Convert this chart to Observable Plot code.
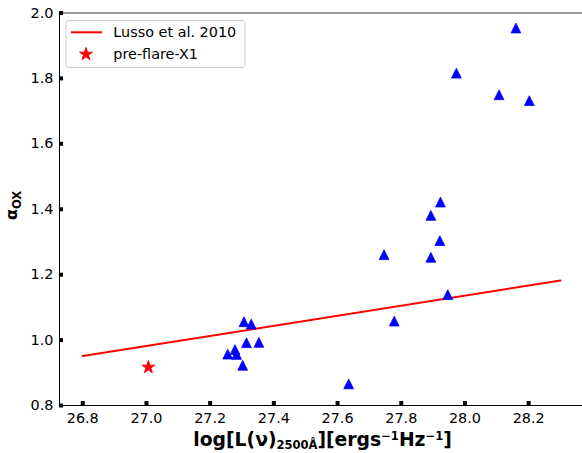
<!DOCTYPE html>
<html>
<head>
<meta charset="utf-8">
<script src="https://cdn.jsdelivr.net/npm/d3@7"></script>
<script src="https://cdn.jsdelivr.net/npm/@observablehq/plot@0.6"></script>
<style>
  html, body { margin: 0; padding: 0; background: white; }
  #chart { width: 582px; height: 453px; }
</style>
</head>
<body>
<div id="chart"></div>
<script>
// ---- data ----
const sampleLogL = [28.160, 27.973, 28.107, 28.202, 27.923, 27.893, 27.921, 27.746, 27.893, 27.946,
                    27.778, 27.635, 27.306, 27.329, 27.314, 27.353, 27.255, 27.278, 27.283, 27.302];
const sampleAlpha = [1.954, 1.816, 1.750, 1.732, 1.422, 1.381, 1.304, 1.261, 1.253, 1.139,
                     1.058, 0.866, 1.056, 1.049, 0.992, 0.993, 0.957, 0.971, 0.956, 0.923];
const flareLogL = [27.006];
const flareAlpha = [0.917];
const lussoLogL = [26.8, 28.3];
const lussoAlpha = [0.951, 1.182];
const xTicks = [26.8, 27.0, 27.2, 27.4, 27.6, 27.8, 28.0, 28.2];
const yTicks = [0.8, 1.0, 1.2, 1.4, 1.6, 1.8, 2.0];
const xDomain = [26.727, 28.369];
const yDomain = [0.8, 2.0];
const legendLabels = ["Lusso et al. 2010", "pre-flare-X1"];

const samples = sampleLogL.map((x, i) => ({x, y: sampleAlpha[i]}));
const flare = flareLogL.map((x, i) => ({x, y: flareAlpha[i]}));
const lusso = lussoLogL.map((x, i) => ({x, y: lussoAlpha[i]}));

// matplotlib-like "^" marker (width == height, centred on its box)
const mplTriangle = {
  draw(context, size) {
    const h = Math.sqrt(size) / 2;
    context.moveTo(0, -h);
    context.lineTo(h, h);
    context.lineTo(-h, h);
    context.closePath();
  }
};

const chart = Plot.plot({
  width: 582,
  height: 453,
  marginLeft: 59,
  marginRight: 0,
  marginTop: 12.5,
  marginBottom: 48,
  style: {fontFamily: "DejaVu Sans", fontSize: "14.4px", color: "black", background: "white"},
  x: {domain: xDomain, ticks: xTicks, tickFormat: ".1f", tickSize: 0, tickPadding: 7, label: null},
  y: {domain: yDomain, ticks: yTicks, tickFormat: ".1f", tickSize: 0, tickPadding: 6, label: null},
  marks: [
    Plot.ruleY([yDomain[0]], {stroke: "black", strokeWidth: 1}),
    Plot.ruleY([yDomain[1]], {stroke: "#333", strokeWidth: 1}),
    Plot.ruleX([xDomain[0]], {stroke: "black", strokeWidth: 1}),
    Plot.dot(xTicks, {x: d => d, y: () => yDomain[0], symbol: "square", r: 2.26, fill: "black", dy: -2.5}),
    Plot.dot(yTicks, {x: () => xDomain[0], y: d => d, symbol: "square", r: 2.26, fill: "black", dx: 1.5}),
    Plot.line(lusso, {x: "x", y: "y", stroke: "#ff0000", strokeWidth: 2}),
    Plot.dot(samples, {x: "x", y: "y", symbol: mplTriangle, r: 5.5, fill: "#0000ff", stroke: "#0000ff", strokeWidth: 0.8}),
    Plot.dot(flare, {x: "x", y: "y", symbol: "star", r: 4.0, fill: "#ff0000", stroke: "#ff0000", strokeWidth: 1})
  ]
});

document.getElementById("chart").appendChild(chart);

const svg = d3.select(chart);

// x-axis label with sub/superscripts
const xl = svg.append("text")
  .attr("x", 322.5).attr("y", 446)
  .attr("text-anchor", "middle")
  .attr("font-family", "DejaVu Sans")
  .attr("font-weight", "bold")
  .attr("font-size", 18.8)
  .attr("fill", "black");
xl.append("tspan").text("log[L(ν)");
xl.append("tspan").attr("font-size", 11.5).attr("dy", 2.5).text("2500Å");
xl.append("tspan").attr("dy", -2.5).text("][ergs");
xl.append("tspan").attr("font-size", 11.5).attr("dy", -6).text("−1");
xl.append("tspan").attr("dy", 6).text("Hz");
xl.append("tspan").attr("font-size", 11.5).attr("dy", -6).text("−1");
xl.append("tspan").attr("dy", 6).text("]");

// y-axis label
const yl = svg.append("text")
  .attr("transform", "translate(17.3,205.5) rotate(-90)")
  .attr("text-anchor", "middle")
  .attr("font-family", "DejaVu Sans")
  .attr("font-weight", "bold")
  .attr("font-size", 16)
  .attr("fill", "black");
yl.append("tspan").text("α");
yl.append("tspan").attr("font-size", 11.5).attr("dy", 3.4).text("OX");

// legend
const lg = svg.append("g").attr("font-family", "DejaVu Sans").attr("font-size", 14.4).attr("text-anchor", "start");
lg.append("rect").attr("x", 66).attr("y", 20.5).attr("width", 179).attr("height", 47)
  .attr("rx", 3).attr("fill", "white").attr("fill-opacity", 0.8).attr("stroke", "#cccccc");
lg.append("line").attr("x1", 71).attr("x2", 102).attr("y1", 32.3).attr("y2", 32.3)
  .attr("stroke", "#ff0000").attr("stroke-width", 2);
lg.append("text").attr("x", 113.3).attr("y", 32.3).attr("dy", "0.35em").attr("fill", "black").text(legendLabels[0]);
lg.append("path").attr("transform", "translate(86,54.3)")
  .attr("d", d3.symbol(d3.symbolStar, Math.PI * 4.0 * 4.0)()).attr("fill", "#ff0000")
  .attr("stroke", "#ff0000").attr("stroke-width", 1);
lg.append("text").attr("x", 113.3).attr("y", 54.3).attr("dy", "0.35em").attr("fill", "black").text(legendLabels[1]);
</script>
</body>
</html>
